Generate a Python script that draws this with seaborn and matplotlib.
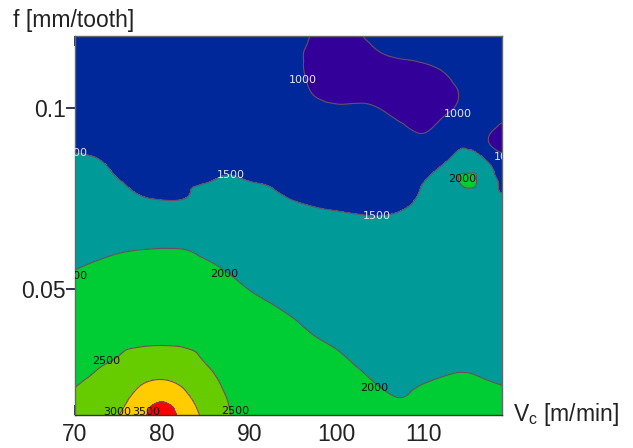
import numpy as np
import matplotlib
matplotlib.use("Agg")
import matplotlib.pyplot as plt
import matplotlib.tri as mtri
import seaborn as sns

# ---------------- data ----------------
vc = [70, 72.5, 75, 77.5, 80, 82.5, 85, 87.5, 90, 92.5, 95, 97.5,
      100, 102.5, 105, 107.5, 110, 112.5, 115, 117.5, 120]
feed = [0.015, 0.020, 0.025, 0.030, 0.035, 0.040, 0.045, 0.050, 0.055,
        0.060, 0.065, 0.070, 0.075, 0.080, 0.085, 0.090, 0.095, 0.100,
        0.105, 0.110, 0.115, 0.120]

# surface values, one list per cutting speed (bottom -> top in feed)
z_vc70 = [2600, 2540, 2462, 2385, 2309, 2232, 2156, 2079, 2003, 1925, 1846,
          1767, 1689, 1610, 1532, 1476, 1436, 1396, 1356, 1316, 1276, 1236]
z_vc72_5 = [2725, 2635, 2545, 2459, 2376, 2294, 2211, 2129, 2046, 1961, 1871,
            1782, 1693, 1604, 1514, 1466, 1426, 1386, 1346, 1306, 1266, 1226]
z_vc75 = [2990, 2844, 2688, 2531, 2431, 2344, 2257, 2170, 2083, 1995, 1871,
          1748, 1624, 1505, 1462, 1422, 1382, 1342, 1302, 1262, 1222, 1182]
z_vc77_5 = [3350, 3144, 2921, 2658, 2464, 2375, 2287, 2198, 2109, 2020, 1865,
            1691, 1517, 1464, 1424, 1384, 1344, 1304, 1264, 1224, 1184, 1144]
z_vc80 = [3800, 3385, 2990, 2709, 2475, 2387, 2298, 2209, 2121, 2032, 1866,
          1655, 1490, 1450, 1410, 1370, 1330, 1290, 1250, 1210, 1170, 1130]
z_vc82_5 = [3300, 3100, 2879, 2636, 2462, 2374, 2287, 2199, 2112, 2024, 1868,
            1684, 1497, 1460, 1420, 1380, 1340, 1300, 1260, 1220, 1180, 1140]
z_vc85 = [2900, 2757, 2614, 2483, 2398, 2314, 2229, 2144, 2059, 1962, 1837,
          1712, 1587, 1488, 1448, 1408, 1368, 1328, 1288, 1248, 1208, 1168]
z_vc87_5 = [2540, 2486, 2415, 2345, 2275, 2204, 2134, 2063, 1991, 1896, 1802,
            1708, 1613, 1519, 1468, 1428, 1388, 1348, 1308, 1268, 1228, 1188]
z_vc90 = [2350, 2300, 2250, 2200, 2150, 2100, 2050, 1995, 1912, 1829, 1745,
          1662, 1579, 1497, 1460, 1420, 1380, 1340, 1300, 1260, 1220, 1180]
z_vc92_5 = [2320, 2269, 2218, 2166, 2115, 2064, 2012, 1939, 1859, 1780, 1700,
            1620, 1540, 1480, 1440, 1400, 1360, 1320, 1280, 1240, 1200, 1160]
z_vc95 = [2300, 2245, 2190, 2135, 2080, 2025, 1958, 1881, 1803, 1725, 1648,
          1570, 1492, 1420, 1350, 1285, 1225, 1170, 1120, 1090, 1080, 1090]
z_vc97_5 = [2280, 2216, 2153, 2089, 2025, 1958, 1888, 1818, 1749, 1679, 1609,
            1539, 1464, 1383, 1301, 1220, 1138, 1057, 976, 930, 920, 975]
z_vc100 = [2250, 2181, 2113, 2044, 1977, 1912, 1847, 1783, 1718, 1653, 1588,
           1523, 1446, 1361, 1276, 1191, 1105, 1020, 940, 890, 870, 880]
z_vc102_5 = [2200, 2122, 2044, 1974, 1916, 1858, 1800, 1742, 1684, 1626, 1567,
             1509, 1431, 1349, 1267, 1185, 1103, 1021, 950, 925, 950, 985]
z_vc105 = [2120, 2037, 1971, 1919, 1867, 1815, 1762, 1710, 1658, 1606, 1553,
           1502, 1418, 1334, 1250, 1166, 1082, 998, 960, 965, 995, 1040]
z_vc107_5 = [2060, 1998, 1951, 1903, 1856, 1808, 1761, 1713, 1666, 1618, 1571,
             1523, 1448, 1340, 1233, 1125, 1017, 940, 910, 950, 1020, 1080]
z_vc110 = [2130, 2051, 1984, 1938, 1893, 1847, 1802, 1756, 1711, 1665, 1620,
           1575, 1529, 1490, 1273, 1107, 940, 890, 900, 960, 1040, 1100]
z_vc112_5 = [2170, 2090, 2010, 1963, 1921, 1879, 1837, 1795, 1753, 1710, 1668,
             1626, 1584, 1660, 1499, 1300, 1100, 960, 950, 1005, 1080, 1140]
z_vc115 = [2180, 2100, 2020, 1970, 1928, 1887, 1846, 1805, 1764, 1723, 1681,
           1640, 1720, 2150, 1620, 1460, 1220, 1050, 1040, 1100, 1150, 1200]
z_vc117_5 = [2150, 2072, 1994, 1954, 1912, 1869, 1827, 1784, 1742, 1699, 1657,
             1615, 1572, 1650, 1490, 1010, 1040, 1100, 1130, 1150, 1180, 1220]
z_vc120 = [2100, 2029, 1973, 1927, 1882, 1836, 1791, 1745, 1700, 1655, 1609,
           1564, 1518, 1333, 1055, 850, 950, 1080, 1130, 1160, 1190, 1220]

levels = [500, 1000, 1500, 2000, 2500, 3000, 3500, 4500]
x_ticks = [70, 80, 90, 100, 110]
y_ticks = [0.05, 0.1]
y_tick_labels = ["0.05", "0.1"]

# ---------------- drawing ----------------
sns.set_style("ticks")
plt.rcParams["font.family"] = ["Liberation Sans", "DejaVu Sans"]
plt.rcParams["mathtext.fontset"] = "custom"
plt.rcParams["mathtext.rm"] = "Liberation Sans"
plt.rcParams["mathtext.it"] = "Liberation Sans:italic"

band_colors = ["#330099", "#00289A", "#009A99", "#00CC33",
               "#66CC00", "#FFCC00", "#FF0000"]

cols = [z_vc70, z_vc72_5, z_vc75, z_vc77_5, z_vc80, z_vc82_5, z_vc85,
        z_vc87_5, z_vc90, z_vc92_5, z_vc95, z_vc97_5, z_vc100, z_vc102_5,
        z_vc105, z_vc107_5, z_vc110, z_vc112_5, z_vc115, z_vc117_5, z_vc120]
Z = np.column_stack([np.asarray(c, dtype=float) for c in cols])
X, Y = np.meshgrid(vc, feed)

# smooth contour rendering via matplotlib's triangulation refiner
# (feed scaled so both axes have a comparable pixel scale)
yscale = 415.0
tri = mtri.Triangulation(X.ravel(), Y.ravel() * yscale)
refiner = mtri.UniformTriRefiner(tri)
interp = mtri.CubicTriInterpolator(tri, Z.ravel(), kind="geom")
tri_fine, z_fine = refiner.refine_field(Z.ravel(), triinterpolator=interp,
                                        subdiv=3)
tri_plot = mtri.Triangulation(tri_fine.x, tri_fine.y / yscale,
                              tri_fine.triangles)

fig = plt.figure(figsize=(6.33, 4.48), dpi=100)
ax = fig.add_axes([75 / 633, 1 - 415 / 448, 427 / 633, 379 / 448])

ax.tricontourf(tri_plot, z_fine, levels=levels, colors=band_colors)
ax.tricontour(tri_plot, z_fine, levels=levels[1:-1], colors="#6f4a66",
              linewidths=0.8)

ax.set_xlim(70, 119)
ax.set_ylim(0.015, 0.12)
ax.set_xticks(x_ticks)
ax.set_xticklabels([str(v) for v in x_ticks])
ax.set_yticks(y_ticks)
ax.set_yticklabels(y_tick_labels)

ax.tick_params(axis="x", direction="in", length=7, width=1.2, top=True,
               labelsize=16.5, pad=6, colors="#111133", labelcolor="#222222")
ax.tick_params(axis="y", direction="inout", length=12.5, width=1.2,
               labelsize=16.5, pad=0.5, colors="#111133", labelcolor="#222222")
sec = ax.secondary_yaxis("right")
sec.set_yticks(y_ticks)
sec.tick_params(direction="in", length=7, width=1.2, labelright=False,
                colors="#111133")
sec.spines["right"].set_visible(False)

for s in ["left", "right", "top", "bottom"]:
    ax.spines[s].set_color("#666666")
    ax.spines[s].set_linewidth(1.0)
ax.spines["bottom"].set_color("#333333")

# contour labels (value text taken from the levels)
label_font = ["Liberation Sans Narrow", "DejaVu Sans"]
label_spec = [
    (levels[1], 96.2, 0.1078, "#e6e6f2", "center"),
    (levels[1], 113.9, 0.0984, "#e6e6f2", "center"),
    (levels[1], 118.05, 0.0865, "#e6e6f2", "left"),
    (levels[2], 71.5, 0.0876, "#e6e6f2", "right"),
    (levels[2], 87.9, 0.0815, "#e6e6f2", "center"),
    (levels[2], 104.6, 0.0701, "#e6e6f2", "center"),
    (levels[3], 87.1, 0.0541, "#111111", "center"),
    (levels[3], 71.4, 0.0535, "#111111", "right"),
    (levels[3], 114.4, 0.0804, "#111111", "center"),
    (levels[3], 104.3, 0.0225, "#111111", "center"),
    (levels[4], 73.6, 0.0300, "#111111", "center"),
    (levels[4], 88.4, 0.0161, "#111111", "center"),
    (levels[5], 74.8, 0.0158, "#111111", "center"),
    (levels[6], 78.2, 0.0158, "#111111", "center"),
]
for val, lx, ly, c, ha in label_spec:
    ax.text(lx, ly, str(val), fontsize=8, family=label_font, color=c,
            ha=ha, va="center", clip_on=True)

fig.text(13 / 633, 1 - 20 / 448, "f [mm/tooth]", fontsize=16.5,
         ha="left", va="center", color="#222222")
fig.text(513 / 633, 1 - 414 / 448, r"V$_\mathrm{c}$ [m/min]", fontsize=16.5,
         ha="left", va="center", color="#222222")

fig.savefig("out.png", dpi=100)
